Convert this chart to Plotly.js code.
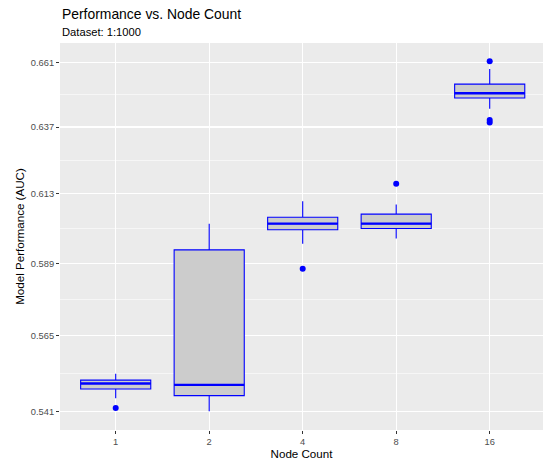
<!DOCTYPE html>
<html>
<head>
<meta charset="utf-8">
<script src="https://cdn.plot.ly/plotly-3.0.1.min.js"></script>
<style>html,body{margin:0;padding:0;background:#fff;}#chart{width:543px;height:463px;}</style>
</head>
<body>
<div id="chart"></div>
<script>
// ---- data ----
var categories = ['1', '2', '4', '8', '16'];
var q1Values     = [0.5480, 0.5459, 0.6005, 0.6009, 0.6477];
var medianValues = [0.5497, 0.5493, 0.6026, 0.6026, 0.6495];
var q3Values     = [0.5508, 0.5936, 0.6048, 0.6059, 0.6529];
var lowerWhisker = [0.5451, 0.5410, 0.5957, 0.5975, 0.6437];
var upperWhisker = [0.5528, 0.6026, 0.6104, 0.6093, 0.6586];
var outlierCategory = ['1', '4', '8', '16', '16', '16'];
var outlierValues   = [0.5420, 0.5872, 0.6166, 0.6615, 0.6396, 0.6387];
var yTickValues = [0.541, 0.565, 0.589, 0.613, 0.637, 0.661];
var yTickLabels = ['0.541', '0.565', '0.589', '0.613', '0.637', '0.661'];

// minor gridlines halfway (in log space) between major ticks
var minorVals = [];
for (var i = 0; i < yTickValues.length - 1; i++) {
  minorVals.push(Math.sqrt(yTickValues[i] * yTickValues[i + 1]));
}

var FONT = '"Liberation Sans", Arial, Helvetica, sans-serif';

var boxes = {
  type: 'box',
  x: categories,
  q1: q1Values,
  median: medianValues,
  q3: q3Values,
  lowerfence: lowerWhisker,
  upperfence: upperWhisker,
  width: 0.75,
  whiskerwidth: 0,
  fillcolor: '#CCCCCC',
  line: {color: '#0000FF', width: 1.1},
  hoverinfo: 'skip',
  showlegend: false
};

var medians = {
  type: 'box',
  x: categories,
  q1: medianValues,
  median: medianValues,
  q3: medianValues,
  lowerfence: medianValues,
  upperfence: medianValues,
  width: 0.75,
  whiskerwidth: 0,
  fillcolor: 'rgba(0,0,0,0)',
  line: {color: '#0000FF', width: 2.4},
  hoverinfo: 'skip',
  showlegend: false
};

var outliers = {
  type: 'scatter',
  mode: 'markers',
  x: outlierCategory,
  y: outlierValues,
  marker: {color: '#0000FF', size: 6},
  hoverinfo: 'skip',
  showlegend: false
};

var layout = {
  width: 543,
  height: 463,
  margin: {l: 60, r: 0, t: 43, b: 33, pad: 0},
  paper_bgcolor: '#FFFFFF',
  plot_bgcolor: '#EBEBEB',
  boxmode: 'overlay',
  font: {family: FONT, color: '#000000'},
  xaxis: {
    type: 'category',
    categoryorder: 'array',
    categoryarray: categories,
    range: [-0.5957, 4.570],
    showgrid: true,
    gridcolor: '#FFFFFF',
    gridwidth: 1.1,
    zeroline: false,
    showline: false,
    ticks: 'outside',
    ticklen: 3,
    tickwidth: 1,
    tickcolor: '#333333',
    tickfont: {family: FONT, size: 9.3, color: '#4D4D4D'},
    title: {text: 'Node Count', font: {family: FONT, size: 11.6, color: '#000000'}, standoff: 3}
  },
  yaxis: {
    type: 'log',
    range: [-0.271462, -0.174896],
    tickmode: 'array',
    tickvals: yTickValues,
    ticktext: yTickLabels,
    showgrid: true,
    gridcolor: '#FFFFFF',
    gridwidth: 1.1,
    zeroline: false,
    showline: false,
    ticks: 'outside',
    ticklen: 3,
    tickwidth: 1,
    tickcolor: '#333333',
    tickfont: {family: FONT, size: 9.3, color: '#4D4D4D'},
    minor: {
      tickmode: 'array',
      tickvals: minorVals,
      showgrid: true,
      gridcolor: '#FFFFFF',
      gridwidth: 0.55,
      ticks: ''
    },
    title: {text: 'Model Performance (AUC)', font: {family: FONT, size: 11.6, color: '#000000'}, standoff: 3}
  },
  annotations: [
    {
      text: 'Performance vs. Node Count',
      xref: 'paper', yref: 'paper', x: 0, y: 1,
      xanchor: 'left', yanchor: 'bottom', yshift: 19,
      showarrow: false,
      font: {family: FONT, size: 13.9, color: '#000000'}
    },
    {
      text: 'Dataset: 1:1000',
      xref: 'paper', yref: 'paper', x: 0, y: 1,
      xanchor: 'left', yanchor: 'bottom', yshift: 3,
      showarrow: false,
      font: {family: FONT, size: 11.2, color: '#000000'}
    }
  ]
};

Plotly.newPlot('chart', [boxes, medians, outliers], layout, {displayModeBar: false, staticPlot: true});
</script>
</body>
</html>
